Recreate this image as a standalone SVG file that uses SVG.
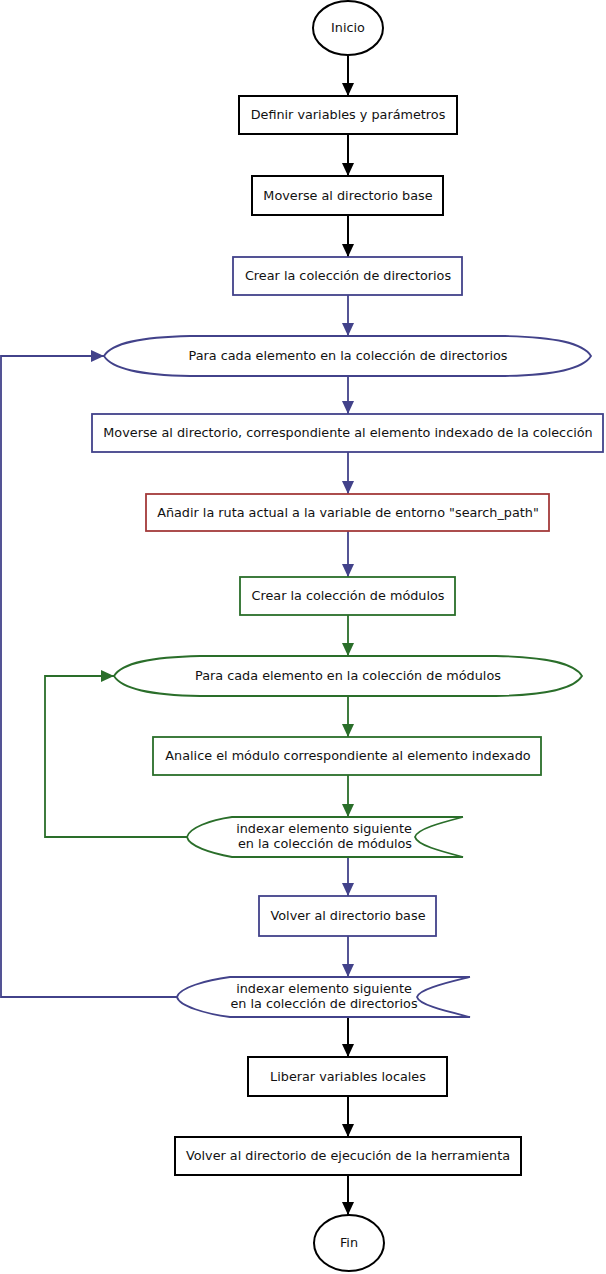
<svg xmlns="http://www.w3.org/2000/svg" width="606" height="1274" viewBox="0 0 606 1274">
<defs>
<style>
text{font-family:"DejaVu Sans",sans-serif;font-size:12.8px;fill:#111;text-anchor:middle}
.k{fill:#fff;stroke:#000;stroke-width:2}
.b{fill:#fff;stroke:#42428a;stroke-width:1.8}
.g{fill:#fff;stroke:#2a6e2a;stroke-width:1.8}
.r{fill:#fff;stroke:#a33a3a;stroke-width:1.8}
.ck{fill:none;stroke:#000;stroke-width:2;marker-end:url(#ak)}
.cb{fill:none;stroke:#42428a;stroke-width:1.8;marker-end:url(#ab)}
.cg{fill:none;stroke:#2a6e2a;stroke-width:1.8;marker-end:url(#ag)}
</style>
<marker id="ak" markerUnits="userSpaceOnUse" markerWidth="13" markerHeight="12" refX="13" refY="6" orient="auto"><path d="M0,0 L13,6 L0,12 z" fill="#000"/></marker>
<marker id="ab" markerUnits="userSpaceOnUse" markerWidth="13" markerHeight="12" refX="13" refY="6" orient="auto"><path d="M0,0 L13,6 L0,12 z" fill="#42428a"/></marker>
<marker id="ag" markerUnits="userSpaceOnUse" markerWidth="13" markerHeight="12" refX="13" refY="6" orient="auto"><path d="M0,0 L13,6 L0,12 z" fill="#2a6e2a"/></marker>
</defs>
<rect width="606" height="1274" fill="#fff"/>
<g id="connectors">
<path class="ck" d="M348 56 V96"/>
<path class="ck" d="M348 134 V176"/>
<path class="ck" d="M348 215 V257"/>
<path class="cb" d="M348 295 V336"/>
<path class="cb" d="M348 376 V414"/>
<path class="cb" d="M348 452 V494"/>
<path class="cb" d="M348 531 V577"/>
<path class="cg" d="M348 615 V656"/>
<path class="cg" d="M348 696 V737"/>
<path class="cg" d="M348 775 V817"/>
<path class="cg" d="M187 837 H45 V676 H114"/>
<path class="cb" d="M348 857 V896"/>
<path class="cb" d="M348 936 V977"/>
<path class="cb" d="M177 997 H1 V356 H104"/>
<path class="ck" d="M348 1017 V1057"/>
<path class="ck" d="M348 1096 V1137"/>
<path class="ck" d="M348 1175 V1215"/>
</g>
<g id="inicio"><ellipse class="k" cx="348" cy="28" rx="35" ry="27"/><text x="348" y="32">Inicio</text></g>
<g id="definir"><rect class="k" x="239" y="96" width="218" height="38"/><text x="348" y="119">Definir variables y parámetros</text></g>
<g id="moverse-base"><rect class="k" x="252" y="176" width="191" height="39"/><text x="348" y="200">Moverse al directorio base</text></g>
<g id="crear-dirs"><rect class="b" x="233" y="257" width="229" height="38"/><text x="348" y="280">Crear la colección de directorios</text></g>
<g id="para-dirs"><path class="b" d="M104 356 C112 343 140 337 190 336 L505 336 C555 337 583 343 591 356 C583 369 555 375 505 376 L190 376 C140 375 112 369 104 356 Z"/><text x="348" y="360">Para cada elemento en la colección de directorios</text></g>
<g id="moverse-dir"><rect class="b" x="92" y="414" width="511" height="38"/><text x="348" y="437">Moverse al directorio, correspondiente al elemento indexado de la colección</text></g>
<g id="anadir"><rect class="r" x="146" y="494" width="403" height="37"/><text x="348" y="517">Añadir la ruta actual a la variable de entorno "search_path"</text></g>
<g id="crear-mods"><rect class="g" x="240" y="577" width="215" height="38"/><text x="348" y="600">Crear la colección de módulos</text></g>
<g id="para-mods"><path class="g" d="M114 676 C122 663 150 657 200 656 L496 656 C546 657 574 663 582 676 C574 689 546 695 496 696 L200 696 C150 695 122 689 114 676 Z"/><text x="348" y="680">Para cada elemento en la colección de módulos</text></g>
<g id="analice"><rect class="g" x="153" y="737" width="388" height="38"/><text x="348" y="760">Analice el módulo correspondiente al elemento indexado</text></g>
<g id="indexar-mods"><path class="g" d="M463 817 L232 817 C210 820 189 828 187 837 C189 846 210 853 232 857 L463 857 C440 851 417 845 415 837 C417 829 440 823 463 817"/><text x="324" y="833">indexar elemento siguiente</text><text x="325" y="848">en la colección de módulos</text></g>
<g id="volver-base"><rect class="b" x="259" y="896" width="177" height="40"/><text x="348" y="920">Volver al directorio base</text></g>
<g id="indexar-dirs"><path class="b" d="M470 977 L230 977 C206 980 179 988 177 997 C179 1006 206 1014 230 1017 L470 1017 C446 1011 419 1005 417 997 C419 989 446 983 470 977"/><text x="324" y="993">indexar elemento siguiente</text><text x="324" y="1008">en la colección de directorios</text></g>
<g id="liberar"><rect class="k" x="248" y="1057" width="199" height="39"/><text x="348" y="1081">Liberar variables locales</text></g>
<g id="volver-ejec"><rect class="k" x="175" y="1137" width="346" height="38"/><text x="348" y="1160">Volver al directorio de ejecución de la herramienta</text></g>
<g id="fin"><ellipse class="k" cx="349" cy="1243" rx="35" ry="28"/><text x="349" y="1247">Fin</text></g>
</svg>
